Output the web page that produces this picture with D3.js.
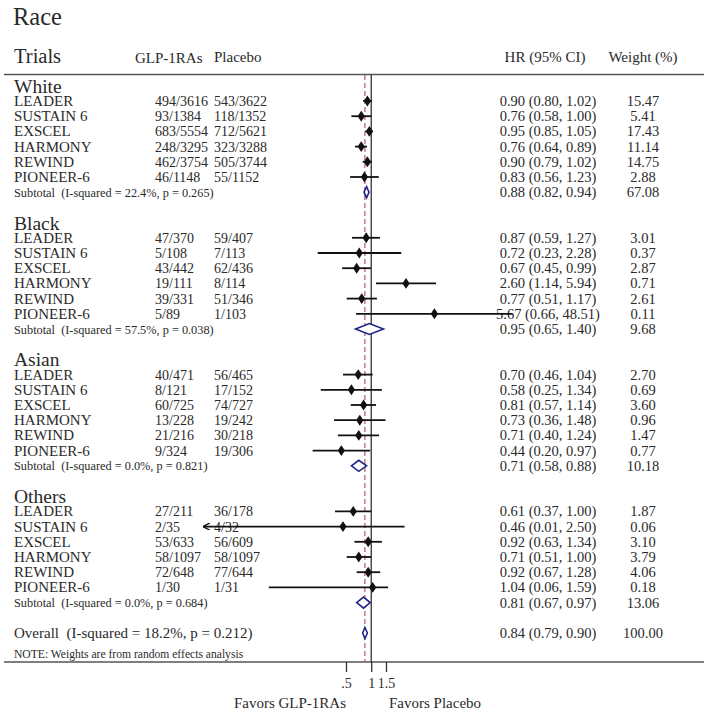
<!DOCTYPE html>
<html>
<head>
<meta charset="utf-8">
<script src="https://cdn.jsdelivr.net/npm/d3@7"></script>
<style>
  html, body { margin: 0; padding: 0; background: #fff; }
  svg { display: block; }
  text { font-family: "Liberation Serif", "Times New Roman", serif; fill: #2a2a2a; }
</style>
</head>
<body>
<svg id="chart" width="708" height="717"></svg>
<script>
// ---------------- data ----------------
const groups = ["White", "Black", "Asian", "Others"];
const trials = ["LEADER", "SUSTAIN 6", "EXSCEL", "HARMONY", "REWIND", "PIONEER-6"];

const glpEvents = [
  ["494/3616", "93/1384", "683/5554", "248/3295", "462/3754", "46/1148"],
  ["47/370", "5/108", "43/442", "19/111", "39/331", "5/89"],
  ["40/471", "8/121", "60/725", "13/228", "21/216", "9/324"],
  ["27/211", "2/35", "53/633", "58/1097", "72/648", "1/30"]
];
const placeboEvents = [
  ["543/3622", "118/1352", "712/5621", "323/3288", "505/3744", "55/1152"],
  ["59/407", "7/113", "62/436", "8/114", "51/346", "1/103"],
  ["56/465", "17/152", "74/727", "19/242", "30/218", "19/306"],
  ["36/178", "4/32", "56/609", "58/1097", "77/644", "1/31"]
];
const hr = [
  [0.90, 0.76, 0.95, 0.76, 0.90, 0.83],
  [0.87, 0.72, 0.67, 2.60, 0.77, 5.67],
  [0.70, 0.58, 0.81, 0.73, 0.71, 0.44],
  [0.61, 0.46, 0.92, 0.71, 0.92, 1.04]
];
const lower = [
  [0.80, 0.58, 0.85, 0.64, 0.79, 0.56],
  [0.59, 0.23, 0.45, 1.14, 0.51, 0.66],
  [0.46, 0.25, 0.57, 0.36, 0.40, 0.20],
  [0.37, 0.01, 0.63, 0.51, 0.67, 0.06]
];
const upper = [
  [1.02, 1.00, 1.05, 0.89, 1.02, 1.23],
  [1.27, 2.28, 0.99, 5.94, 1.17, 48.51],
  [1.04, 1.34, 1.14, 1.48, 1.24, 0.97],
  [1.00, 2.50, 1.34, 1.00, 1.28, 1.59]
];
const weights = [
  ["15.47", "5.41", "17.43", "11.14", "14.75", "2.88"],
  ["3.01", "0.37", "2.87", "0.71", "2.61", "0.11"],
  ["2.70", "0.69", "3.60", "0.96", "1.47", "0.77"],
  ["1.87", "0.06", "3.10", "3.79", "4.06", "0.18"]
];
const subtotalHR = [0.88, 0.95, 0.71, 0.81];
const subtotalLo = [0.82, 0.65, 0.58, 0.67];
const subtotalHi = [0.94, 1.40, 0.88, 0.97];
const subtotalW = ["67.08", "9.68", "10.18", "13.06"];
const subtotalI2 = ["22.4%", "57.5%", "0.0%", "0.0%"];
const subtotalP = ["0.265", "0.038", "0.821", "0.684"];
const overall = { hr: 0.84, lo: 0.79, hi: 0.90, w: "100.00", i2: "18.2%", p: "0.212" };
const tickValues = [0.5, 1, 1.5];
const tickLabels = [".5", "1", "1.5"];

// ---------------- layout ----------------
const FONT = "Liberation Serif, Times New Roman, serif";
const svg = d3.select("#chart");
const x = d3.scaleLog().domain([0.5, 1.5]).range([346, 386]);
const y = d3.scaleLinear().domain([0, 1]).range([85.8, 101]);   // row index -> centre
const colName = 14, colGlp = 155, colPla = 214, colHR = 548, colW = 643;
const fmt = v => v.toFixed(2);

function txt(xp, yp, s, size, anchor) {
  return svg.append("text").attr("x", xp).attr("y", yp)
    .attr("font-family", FONT)
    .attr("font-size", size).attr("text-anchor", anchor || "start")
    .attr("xml:space", "preserve").text(s);
}

// title and header
txt(13, 25, "Race", 24.5);
txt(14, 63, "Trials", 20.5);
txt(135, 63, "GLP-1RAs", 15);
txt(214, 62, "Placebo", 15);
txt(colHR - 3, 62, "HR (95% CI)", 15, "middle");
txt(colW, 62, "Weight (%)", 15, "middle");

svg.append("line").attr("x1", 4).attr("x2", 704).attr("y1", 74.5).attr("y2", 74.5)
  .attr("stroke", "#555").attr("stroke-width", 1.6);
svg.append("line").attr("x1", 4).attr("x2", 704).attr("y1", 662).attr("y2", 662)
  .attr("stroke", "#555").attr("stroke-width", 1.6);

// reference lines
svg.append("line").attr("x1", x(1)).attr("x2", x(1)).attr("y1", 74.5).attr("y2", 662)
  .attr("stroke", "#333").attr("stroke-width", 1.3);
svg.append("line").attr("x1", x(overall.hr)).attr("x2", x(overall.hr)).attr("y1", 75).attr("y2", 662)
  .attr("stroke", "#b5566a").attr("stroke-width", 1.2).attr("stroke-dasharray", "5,3");

// arrow marker
svg.append("defs").append("marker").attr("id", "arrow")
  .attr("viewBox", "0 0 10 10").attr("refX", 9).attr("refY", 5)
  .attr("markerWidth", 7).attr("markerHeight", 7).attr("orient", "auto-start-reverse")
  .attr("markerUnits", "userSpaceOnUse")
  .append("path").attr("d", "M0,0 L10,5 L0,10").attr("fill", "none")
  .attr("stroke", "#111").attr("stroke-width", 2);

const diamondSym = d3.symbol().type(d3.symbolDiamond).size(38);

function subDiamond(cy, lo, mid, hi) {
  const h = 5.5;
  svg.append("path")
    .attr("d", `M${x(lo)},${cy} L${x(mid)},${cy - h} L${x(hi)},${cy} L${x(mid)},${cy + h} Z`)
    .attr("fill", "#fff").attr("stroke", "#1e2388").attr("stroke-width", 1.6);
}

let row = 0;
groups.forEach((g, gi) => {
  txt(colName, y(row) + 7, g, 19.5);
  row++;
  trials.forEach((t, ti) => {
    const cy = y(row);
    txt(colName, cy + 5, t, 15);
    txt(colGlp, cy + 5, glpEvents[gi][ti], 14);
    txt(colPla, cy + 5, placeboEvents[gi][ti], 14);
    txt(colHR, cy + 5, `${fmt(hr[gi][ti])} (${fmt(lower[gi][ti])}, ${fmt(upper[gi][ti])})`, 14.5, "middle");
    txt(colW, cy + 5, weights[gi][ti], 14.5, "middle");
    const ci = svg.append("line").attr("x1", x(lower[gi][ti])).attr("x2", x(upper[gi][ti]))
      .attr("y1", cy).attr("y2", cy).attr("stroke", "#111").attr("stroke-width", 1.8);
    if (lower[gi][ti] <= 0.01) ci.attr("marker-start", "url(#arrow)");
    svg.append("path").attr("d", diamondSym())
      .attr("transform", `translate(${x(hr[gi][ti])},${cy}) scale(1.1,0.95)`)
      .attr("fill", "#111");
    row++;
  });
  const cy = y(row);
  txt(colName, cy + 4.5, `Subtotal  (I-squared = ${subtotalI2[gi]}, p = ${subtotalP[gi]})`, 12.3);
  txt(colHR, cy + 5, `${fmt(subtotalHR[gi])} (${fmt(subtotalLo[gi])}, ${fmt(subtotalHi[gi])})`, 14.5, "middle");
  txt(colW, cy + 5, subtotalW[gi], 14.5, "middle");
  subDiamond(cy, subtotalLo[gi], subtotalHR[gi], subtotalHi[gi]);
  row += 2;
});

// overall
{
  const cy = y(row);
  txt(colName, cy + 5, `Overall  (I-squared = ${overall.i2}, p = ${overall.p})`, 15);
  txt(colHR, cy + 5, `${fmt(overall.hr)} (${fmt(overall.lo)}, ${fmt(overall.hi)})`, 14.5, "middle");
  txt(colW, cy + 5, overall.w, 14.5, "middle");
  subDiamond(cy, overall.lo, overall.hr, overall.hi);
}
txt(colName, 657.5, "NOTE: Weights are from random effects analysis", 11.6);

// axis
const axis = d3.axisBottom(x).tickValues(tickValues)
  .tickFormat((d, i) => tickLabels[i]).tickSize(10).tickPadding(6);
const ag = svg.append("g").attr("transform", "translate(0,662)").call(axis);
ag.select(".domain").remove();
ag.selectAll(".tick line").attr("stroke", "#333").attr("stroke-width", 1.3);
ag.selectAll(".tick text").attr("font-size", 14).attr("font-family", FONT).attr("fill", "#2a2a2a");

txt(x(0.5), 708, "Favors GLP-1RAs", 15, "end");
txt(389, 708, "Favors Placebo", 15);
</script>
</body>
</html>
